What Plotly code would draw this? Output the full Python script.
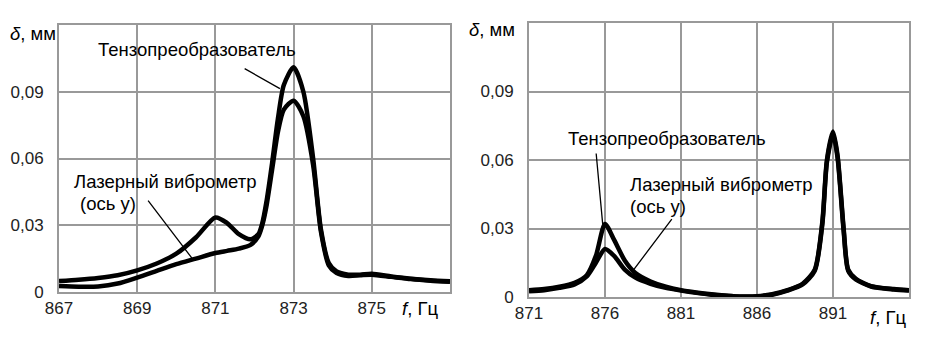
import plotly.graph_objects as go

# ---------- data ----------
f_left = [867, 867.5, 868, 868.5, 869, 869.5, 870, 870.5, 871, 871.3, 871.6, 871.9, 872.1, 872.2,
          872.3, 872.45, 872.6, 872.75, 873, 873.25, 873.5, 873.7, 873.9, 874.1, 874.4, 874.7,
          875, 875.5, 876, 876.5, 877]
tenzo_left = [0.0049, 0.0055, 0.0063, 0.0075, 0.0097, 0.0128, 0.0172, 0.0245, 0.0335, 0.031, 0.026,
              0.0237, 0.026, 0.031, 0.040, 0.058, 0.078, 0.093, 0.101, 0.090, 0.060, 0.028, 0.013,
              0.0092, 0.0078, 0.0078, 0.0082, 0.007, 0.006, 0.0053, 0.0048]
laser_left = [0.0027, 0.0024, 0.0025, 0.0038, 0.0065, 0.0095, 0.0125, 0.015, 0.0175, 0.0185, 0.0195,
              0.0212, 0.025, 0.030, 0.038, 0.055, 0.072, 0.082, 0.086, 0.079, 0.057, 0.027, 0.012,
              0.0085, 0.0072, 0.0075, 0.0078, 0.0068, 0.0058, 0.0051, 0.0046]

f_right = [871, 872, 873, 874, 874.8, 875.4, 876, 876.6, 877.3, 878, 879, 880, 881, 882, 883, 884,
           885, 886, 887, 888, 889, 889.8, 890.3, 890.6, 891, 891.3, 891.7, 892, 892.5, 893.5, 895, 896]
tenzo_right = [0.003, 0.0035, 0.0045, 0.0062, 0.0095, 0.018, 0.032, 0.025, 0.016, 0.0105, 0.0068,
               0.0045, 0.003, 0.002, 0.0012, 0.0006, 0.0002, 0.0003, 0.0012, 0.003, 0.0058, 0.012,
               0.033, 0.060, 0.0725, 0.062, 0.030, 0.012, 0.008, 0.0048, 0.0035, 0.003]
laser_right = [0.0025, 0.003, 0.004, 0.0055, 0.009, 0.015, 0.021, 0.018, 0.012, 0.0085, 0.0058,
               0.004, 0.0028, 0.0018, 0.001, 0.0005, 0.0001, 0.0002, 0.001, 0.0028, 0.0055, 0.0115,
               0.032, 0.059, 0.0715, 0.061, 0.029, 0.0115, 0.0077, 0.0046, 0.0033, 0.0028]

y_ticks = [0, 0.03, 0.06, 0.09]
y_ticktext = ["0", "0,03", "0,06", "0,09"]
x_ticks_left = [867, 869, 871, 873, 875]
x_ticks_right = [871, 876, 881, 886, 891]

name_tenzo = "Тензопреобразователь"
name_laser = "Лазерный виброметр"
name_laser2 = "(ось у)"

# ---------- figure ----------
OFF = 8            # page body margin
W, H = 930, 324
FONT = "Liberation Sans, Arial, sans-serif"
GRID = "#999999"

def px(x):
    return (x - OFF) / W

def py(y):
    return 1 - (y - OFF) / H

fig = go.Figure()
line = dict(color="black", width=4.5, shape="spline", smoothing=0.7)
fig.add_trace(go.Scatter(x=f_left, y=tenzo_left, mode="lines", line=line, xaxis="x", yaxis="y"))
fig.add_trace(go.Scatter(x=f_left, y=laser_left, mode="lines", line=line, xaxis="x", yaxis="y"))
fig.add_trace(go.Scatter(x=f_right, y=tenzo_right, mode="lines", line=line, xaxis="x2", yaxis="y2"))
fig.add_trace(go.Scatter(x=f_right, y=laser_right, mode="lines", line=line, xaxis="x2", yaxis="y2"))

def xax(domain, rng, ticks, anchor):
    return dict(domain=domain, range=rng, tickvals=ticks, ticktext=[str(t) for t in ticks],
                anchor=anchor, showgrid=True, gridcolor=GRID, gridwidth=2, showline=True,
                linecolor=GRID, linewidth=2, mirror=True, zeroline=False, ticks="", ticklen=0,
                automargin=False, ticklabelstandoff=0,
                tickfont=dict(family=FONT, size=17, color="#222"), fixedrange=True)

def yax(domain, anchor):
    return dict(domain=domain, range=[0, 0.12], tickvals=y_ticks, ticktext=y_ticktext,
                anchor=anchor, showgrid=True, gridcolor=GRID, gridwidth=2, showline=True,
                linecolor=GRID, linewidth=2, mirror=True, zeroline=False, ticks="", ticklen=0,
                automargin=False, ticklabelstandoff=10,
                tickfont=dict(family=FONT, size=17, color="#222"), fixedrange=True)

fig.update_layout(
    width=W, height=H, margin=dict(l=0, r=0, t=0, b=0),
    paper_bgcolor="white", plot_bgcolor="white", showlegend=False,
    xaxis=xax([px(59), px(450)], [867, 877], x_ticks_left, "y"),
    yaxis=yax([py(292), py(25)], "x"),
    xaxis2=xax([px(529), px(909)], [871, 896], x_ticks_right, "y2"),
    yaxis2=yax([py(297), py(23)], "x2"),
)

tf = dict(family=FONT, size=18.5, color="black")
ann = []
# left panel labels
ann.append(dict(x=870.53, y=0.1089, xref="x", yref="y", text=name_tenzo, showarrow=False, font=tf))
ann.append(dict(x=872.65, y=0.0914, xref="x", yref="y", ax=871.71, ay=0.1008, axref="x", ayref="y",
                text="", showarrow=True, arrowhead=0, arrowwidth=1.3, arrowcolor="black"))
ann.append(dict(x=867.33, y=0.0497, xref="x", yref="y", text=name_laser, showarrow=False,
                xanchor="left", font=tf))
ann.append(dict(x=867.49, y=0.0399, xref="x", yref="y", text=name_laser2, showarrow=False,
                xanchor="left", font=tf))
ann.append(dict(x=870.40, y=0.0152, xref="x", yref="y", ax=869.25, ay=0.0417, axref="x", ayref="y",
                text="", showarrow=True, arrowhead=0, arrowwidth=1.3, arrowcolor="black"))
# right panel labels
ann.append(dict(x=880.08, y=0.0692, xref="x2", yref="y2", text=name_tenzo, showarrow=False, font=tf))
ann.append(dict(x=875.85, y=0.0318, xref="x2", yref="y2", ax=875.41, ay=0.0635, axref="x2", ayref="y2",
                text="", showarrow=True, arrowhead=0, arrowwidth=1.3, arrowcolor="black"))
ann.append(dict(x=877.51, y=0.0494, xref="x2", yref="y2", text=name_laser, showarrow=False,
                xanchor="left", font=tf))
ann.append(dict(x=877.51, y=0.0397, xref="x2", yref="y2", text=name_laser2, showarrow=False,
                xanchor="left", font=tf))
ann.append(dict(x=877.78, y=0.011, xref="x2", yref="y2", ax=880.47, ay=0.0348, axref="x2", ayref="y2",
                text="", showarrow=True, arrowhead=0, arrowwidth=1.3, arrowcolor="black"))
# axis titles
af = dict(family=FONT, size=18.5, color="black")
ann.append(dict(x=px(8), y=py(33), xref="paper", yref="paper", xanchor="left", yanchor="middle",
                text="<i>δ</i>, мм", showarrow=False, font=af))
ann.append(dict(x=px(467), y=py(30), xref="paper", yref="paper", xanchor="left", yanchor="middle",
                text="<i>δ</i>, мм", showarrow=False, font=af))
ann.append(dict(x=px(400), y=py(308), xref="paper", yref="paper", xanchor="left", yanchor="middle",
                text="<i>f</i>, Гц", showarrow=False, font=af, bgcolor="white"))
ann.append(dict(x=px(868), y=py(317), xref="paper", yref="paper", xanchor="left", yanchor="middle",
                text="<i>f</i>, Гц", showarrow=False, font=af, bgcolor="white"))
fig.update_layout(annotations=ann)

fig.write_html("out.html")
